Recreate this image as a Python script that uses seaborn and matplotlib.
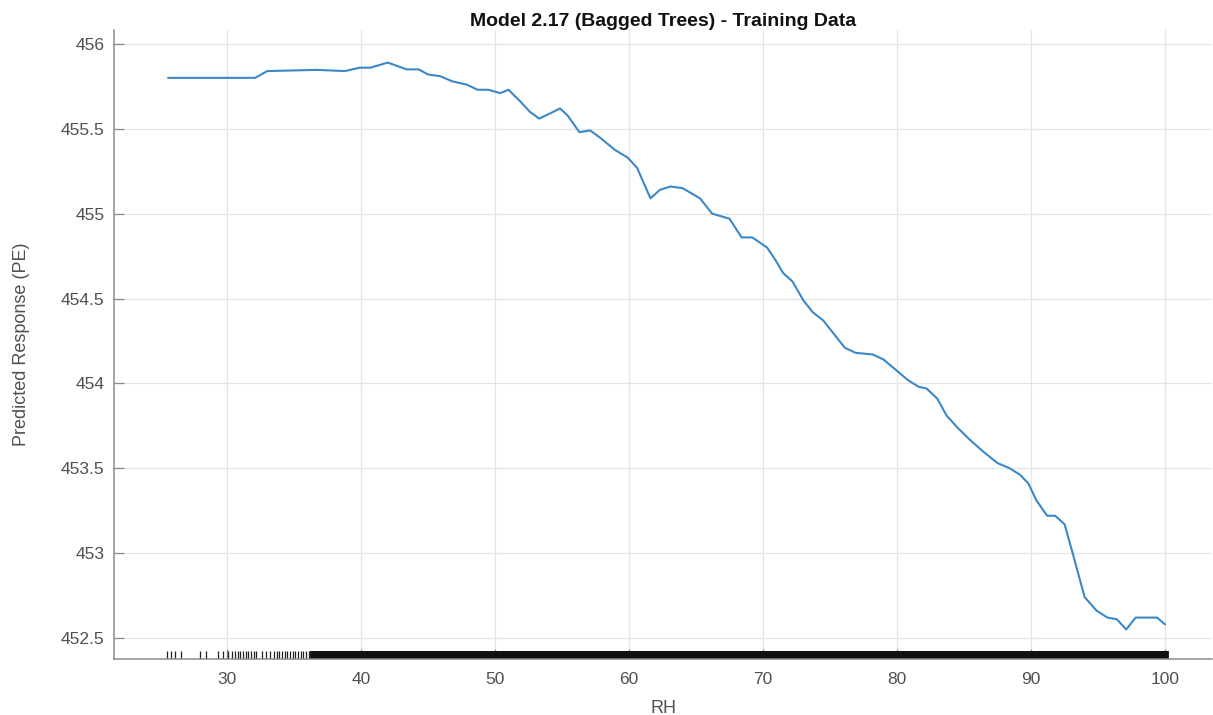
import matplotlib
matplotlib.use("Agg")
import matplotlib.pyplot as plt
import seaborn as sns
import pandas as pd

# ---- data ----
rh = [25.6, 32.1, 33.0, 36.7, 38.8, 39.9, 40.7, 42.0, 43.4, 44.3, 45.0, 45.9,
      46.8, 47.9, 48.7, 49.5, 50.4, 51.0, 51.9, 52.6, 53.3, 54.1, 54.85, 55.4,
      56.3, 57.1, 57.8, 58.96, 59.9, 60.6, 61.6, 62.3, 63.1, 64.0, 65.3, 66.2,
      67.5, 68.4, 69.2, 70.3, 70.9, 71.5, 72.2, 73.0, 73.7, 74.5, 75.2, 76.1,
      76.9, 78.2, 79.0, 80.2, 80.8, 81.6, 82.2, 83.0, 83.7, 84.5, 85.4, 86.4,
      87.5, 88.4, 89.2, 89.8, 90.4, 91.2, 91.8, 92.5, 93.1, 94.0, 94.9, 95.7,
      96.4, 97.1, 97.8, 98.7, 99.4, 100.0]
pe = [455.80, 455.80, 455.84, 455.847, 455.84, 455.86, 455.86, 455.89, 455.85,
      455.85, 455.82, 455.81, 455.78, 455.76, 455.73, 455.73, 455.71, 455.73,
      455.66, 455.60, 455.56, 455.59, 455.62, 455.58, 455.48, 455.49, 455.45,
      455.375, 455.33, 455.27, 455.09, 455.14, 455.16, 455.15, 455.09, 455.00,
      454.97, 454.86, 454.86, 454.80, 454.73, 454.65, 454.60, 454.49, 454.42,
      454.37, 454.30, 454.21, 454.18, 454.17, 454.14, 454.06, 454.02, 453.98,
      453.97, 453.91, 453.81, 453.74, 453.67, 453.60, 453.53, 453.50, 453.46,
      453.41, 453.31, 453.22, 453.22, 453.17, 453.00, 452.74, 452.66, 452.62,
      452.61, 452.55, 452.62, 452.62, 452.62, 452.58]

# observed RH values of the training data (rug marks)
rug_sparse = [25.5, 25.8, 26.1, 26.6, 28.0, 28.4, 29.3, 29.7, 30.1, 30.4, 30.6,
              30.8, 31.0, 31.2, 31.4, 31.6, 31.8, 32.0, 32.2, 32.6, 32.9, 33.2,
              33.5, 33.7, 33.9, 34.1, 34.3, 34.5, 34.7, 34.9, 35.1, 35.3, 35.5,
              35.7, 35.9, 36.1]
rug_dense = [36.5, 37.0, 37.5, 38.0, 38.5, 39.0, 39.5, 40.0, 40.5, 41.0, 41.5,
             42.0, 42.5, 43.0, 43.5, 44.0, 44.5, 45.0, 45.5, 46.0, 46.5, 47.0,
             47.5, 48.0, 48.5, 49.0, 49.5, 50.0, 50.5, 51.0, 51.5, 52.0, 52.5,
             53.0, 53.5, 54.0, 54.5, 55.0, 55.5, 56.0, 56.5, 57.0, 57.5, 58.0,
             58.5, 59.0, 59.5, 60.0, 60.5, 61.0, 61.5, 62.0, 62.5, 63.0, 63.5,
             64.0, 64.5, 65.0, 65.5, 66.0, 66.5, 67.0, 67.5, 68.0, 68.5, 69.0,
             69.5, 70.0, 70.5, 71.0, 71.5, 72.0, 72.5, 73.0, 73.5, 74.0, 74.5,
             75.0, 75.5, 76.0, 76.5, 77.0, 77.5, 78.0, 78.5, 79.0, 79.5, 80.0,
             80.5, 81.0, 81.5, 82.0, 82.5, 83.0, 83.5, 84.0, 84.5, 85.0, 85.5,
             86.0, 86.5, 87.0, 87.5, 88.0, 88.5, 89.0, 89.5, 90.0, 90.5, 91.0,
             91.5, 92.0, 92.5, 93.0, 93.5, 94.0, 94.5, 95.0, 95.5, 96.0, 96.5,
             97.0, 97.5, 98.0, 98.5, 99.0, 99.5, 99.8, 100.0]

x_ticks = [30, 40, 50, 60, 70, 80, 90, 100]
x_tick_labels = ["30", "40", "50", "60", "70", "80", "90", "100"]
y_ticks = [452.5, 453, 453.5, 454, 454.5, 455, 455.5, 456]
y_tick_labels = ["452.5", "453", "453.5", "454", "454.5", "455", "455.5", "456"]

title = "Model 2.17 (Bagged Trees) - Training Data"
x_label = "RH"
y_label = "Predicted Response (PE)"

# ---- styling ----
sns.set_theme(style="whitegrid")
plt.rcParams["font.family"] = ["Liberation Sans", "DejaVu Sans"]

W, H = 1213, 715
fig = plt.figure(figsize=(W / 100, H / 100), dpi=100)
fig.patch.set_facecolor("white")
ax = fig.add_axes([114 / W, 1 - 659 / H, (1212 - 114) / W, (659 - 30) / H])
ax.set_facecolor("white")

df = pd.DataFrame({"RH": rh, "PE": pe})
sns.lineplot(data=df, x="RH", y="PE", ax=ax, color="#3b88c9", linewidth=1.5,
             zorder=3)
sns.rugplot(x=rug_sparse, ax=ax, height=0.012, color="#222222", linewidth=0.9)
sns.rugplot(x=rug_dense, ax=ax, height=0.012, color="#111111", linewidth=5.6)

ax.set_xlim(21.57, 103.5)
ax.set_ylim(452.376, 456.082)
ax.set_xticks(x_ticks)
ax.set_xticklabels(x_tick_labels)
ax.set_yticks(y_ticks)
ax.set_yticklabels(y_tick_labels)

ax.grid(True, color="#e4e4e4", linewidth=0.9)
for side in ["top", "right"]:
    ax.spines[side].set_visible(False)
for side in ["left", "bottom"]:
    ax.spines[side].set_visible(True)
    ax.spines[side].set_color("#8a8a8a")
    ax.spines[side].set_linewidth(1.1)

ax.tick_params(axis="both", direction="in", length=7, width=0.9,
               color="#8a8a8a", labelcolor="#505050", labelsize=12.5,
               bottom=True, left=True, top=False, right=False)
ax.tick_params(axis="x", pad=9)
ax.tick_params(axis="y", pad=7)

ax.set_title(title, fontsize=14, fontweight="bold", color="#111111", pad=3)
ax.set_xlabel(x_label, fontsize=13, color="#505050", labelpad=10)
ax.set_ylabel(y_label, fontsize=13, color="#505050", labelpad=22)

fig.savefig("out.png", dpi=100, facecolor="white")
